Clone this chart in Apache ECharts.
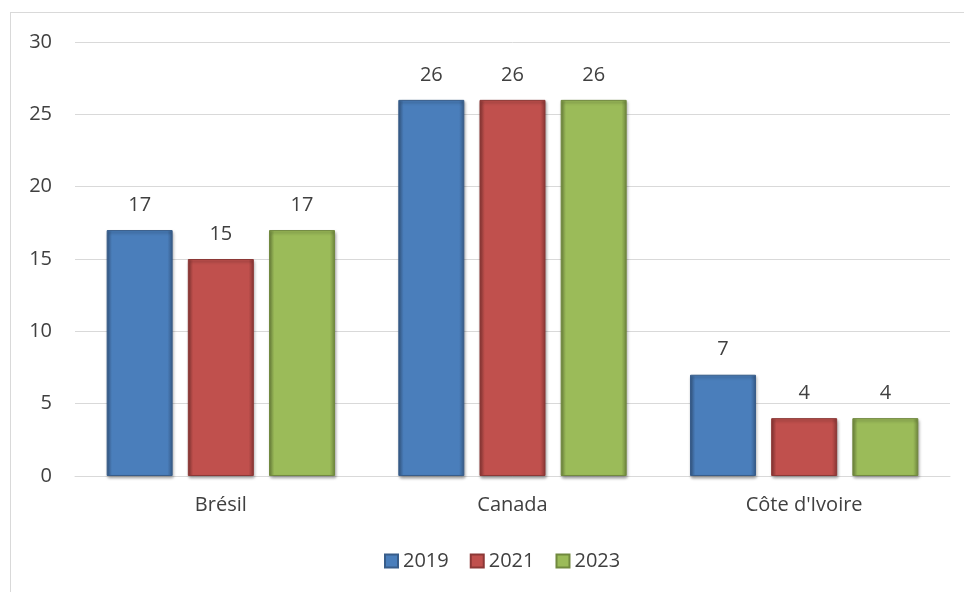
<!DOCTYPE html>
<html>
<head>
<meta charset="utf-8">
<script src="https://cdn.jsdelivr.net/npm/echarts@6/dist/echarts.min.js"></script>
<style>
  body { margin: 0; background: #fff; }
  #frame { position: absolute; left: 10px; top: 12px; width: 970px; height: 600px; border: 1px solid #d9d9d9; }
  #chart { position: absolute; left: 0; top: 0; width: 964px; height: 592px; }
</style>
</head>
<body>
<div id="frame"></div>
<div id="chart"></div>
<script>
const categories = ['Brésil', 'Canada', "Côte d'Ivoire"];
const years = ['2019', '2021', '2023'];
const values2019 = [17, 26, 7];
const values2021 = [15, 26, 4];
const values2023 = [17, 26, 4];
const yTicks = [0, 5, 10, 15, 20, 25, 30];

// office-style palette: [light, base, dark]
const palette = [
  ['#6d9ad3', '#4a7ebb', '#385d8a'],
  ['#d86966', '#c0504d', '#8c3836'],
  ['#b2d36f', '#9bbb59', '#71893f']
];

const chart = echarts.init(document.getElementById('chart'));
const font = '"Open Sans", sans-serif';

const seriesData = [values2019, values2021, values2023];

const option = {
  animation: false,
  textStyle: { fontFamily: font },
  grid: { left: 75, right: 14, top: 42, bottom: 116, containLabel: false },
  legend: {
    data: years,
    top: 546,
    left: 379,
    itemWidth: 13,
    itemHeight: 13,
    itemGap: 21,
    textStyle: { fontSize: 20, color: '#404040', fontFamily: font },
    icon: 'rect'
  },
  xAxis: {
    type: 'category',
    data: categories,
    axisLine: { lineStyle: { color: '#d9d9d9', width: 1 } },
    axisTick: { show: false },
    axisLabel: { fontSize: 20, color: '#404040', margin: 19 }
  },
  yAxis: {
    type: 'value',
    min: yTicks[0],
    max: yTicks[yTicks.length - 1],
    interval: 5,
    axisLine: { show: false },
    axisTick: { show: false },
    axisLabel: { fontSize: 20, color: '#404040', margin: 23 },
    splitLine: { lineStyle: { color: '#d9d9d9', width: 1 } }
  },
  series: years.map((y, i) => ({
    name: y,
    type: 'bar',
    data: seriesData[i],
    barWidth: 66,
    barGap: '23%',
    itemStyle: {
      color: new echarts.graphic.LinearGradient(0, 0, 1, 0, [
        { offset: 0, color: palette[i][2] },
        { offset: 0.08, color: palette[i][1] },
        { offset: 0.5, color: palette[i][1] },
        { offset: 0.92, color: palette[i][1] },
        { offset: 1, color: palette[i][2] }
      ]),
      borderColor: palette[i][2],
      borderWidth: 1,
      shadowColor: 'rgba(0,0,0,0.35)',
      shadowBlur: 3,
      shadowOffsetX: 1,
      shadowOffsetY: 2
    },
    label: {
      show: true,
      position: 'top',
      distance: 15,
      fontSize: 20,
      color: '#404040',
      fontFamily: font
    }
  }))
};

chart.setOption(option);
</script>
</body>
</html>
